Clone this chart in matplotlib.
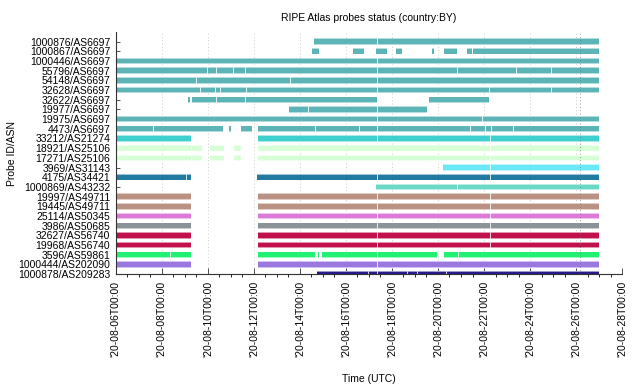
import matplotlib
matplotlib.use("Agg")
import matplotlib.pyplot as plt
import matplotlib.dates as mdates
from matplotlib.ticker import FuncFormatter
from matplotlib.colors import to_rgb
from datetime import datetime
import numpy as np

plt.rcParams['font.family'] = ['Liberation Sans', 'DejaVu Sans']

# probes, top to bottom
probes = ["1000876/AS6697", "1000867/AS6697", "1000446/AS6697", "55796/AS6697",
          "54148/AS6697", "32628/AS6697", "32622/AS6697", "19977/AS6697",
          "19975/AS6697", "4473/AS6697", "33212/AS21274", "18921/AS25106",
          "17271/AS25106", "3969/AS31143", "4175/AS34421", "1000869/AS43232",
          "19997/AS49711", "19445/AS49711", "25114/AS50345", "3986/AS50685",
          "32627/AS56740", "19968/AS56740", "3596/AS59861", "1000444/AS202090",
          "1000878/AS209283"]

asn_colors = {"AS6697": "#5cb4b6", "AS21274": "#3fcfcf", "AS25106": "#d6ffd6",
              "AS31143": "#6ae8f8", "AS34421": "#217aa0", "AS43232": "#6ad8c6",
              "AS49711": "#b99283", "AS50345": "#dc7ad8", "AS50685": "#8a9397",
              "AS56740": "#c0114d", "AS59861": "#22f072", "AS202090": "#9a78e0",
              "AS209283": "#281a8a"}

# time the probe was up, in days since 2020-08-06 00:00 UTC
up_spans = [
    [(8.63, 21.0)],
    [(8.51, 8.83), (10.29, 10.77), (11.31, 11.79), (12.17, 12.43), (13.72, 13.81),
     (14.24, 14.82), (15.25, 15.46), (15.54, 21.0)],
    [(0, 21.0)],
    [(0, 21.0)],
    [(0, 21.0)],
    [(0, 21.0)],
    [(3.15, 3.23), (3.30, 11.35), (13.61, 16.23)],
    [(7.54, 13.51)],
    [(0, 21.0)],
    [(0, 4.66), (4.93, 5.01), (5.44, 5.92), (6.16, 21.0)],
    [(0, 3.26), (6.18, 21.0)],
    [(0, 3.25), (3.29, 3.75), (4.11, 4.69), (5.15, 5.44), (6.18, 21.0)],
    [(0, 3.25), (3.29, 3.75), (4.11, 4.69), (5.15, 5.44), (6.18, 21.0)],
    [(14.21, 21.0)],
    [(0, 3.26), (6.15, 21.0)],
    [(11.31, 21.0)],
    [(0, 3.26), (6.16, 21.0)],
    [(0, 3.26), (6.16, 21.0)],
    [(0, 3.26), (6.16, 21.0)],
    [(0, 3.26), (6.16, 21.0)],
    [(0, 3.26), (6.16, 21.0)],
    [(0, 3.26), (6.16, 21.0)],
    [(0, 3.26), (6.18, 8.64), (8.77, 8.81), (8.98, 13.95), (14.26, 21.0)],
    [(0, 3.26), (6.16, 21.0)],
    [(8.74, 21.0)],
]

# thin breaks between measurement chunks (same units)
breaks = [
    [10.04, 11.37, 14.6, 15.08],
    [],
    [3.22, 11.37, 14.6],
    [3.98, 4.38, 5.12, 5.63, 11.37, 14.6, 14.84, 17.42, 18.94],
    [3.5, 7.6, 11.37, 12.6, 17.56],
    [3.13, 3.68, 4.01, 4.33, 4.55, 5.67, 8.7, 11.37, 16.23, 18.94],
    [4.0, 4.37, 5.63, 14.6],
    [8.38, 11.37],
    [4.0, 5.92, 10.95, 11.37, 14.6, 15.94],
    [1.63, 3.22, 8.67, 10.59, 11.37, 14.6, 15.42, 16.07, 16.33, 17.27, 17.73, 18.83],
    [11.37, 16.29],
    [16.29, 17.69],
    [16.29, 17.69],
    [15.08, 16.29, 17.73],
    [2.26, 3.07, 11.37, 16.29],
    [14.84, 17.73],
    [11.37, 16.29, 18.57],
    [11.37, 16.29],
    [11.37, 16.29],
    [11.37, 16.29, 19.95],
    [11.37, 16.29],
    [11.37, 16.29],
    [2.38, 11.37, 14.89, 17.73],
    [11.37, 14.86],
    [10.98, 11.37, 11.92, 12.67, 13.1, 14.38, 14.86, 17.13],
]

marker_day = 20.19
t0 = mdates.date2num(datetime(2020, 8, 6))


def lighter(c, f=0.55):
    r = np.array(to_rgb(c))
    return tuple(r + (1 - r) * f)


fig = plt.figure(figsize=(6.4, 3.84), dpi=100)
ax = fig.add_axes([0.181, 0.286, 0.791, 0.631])

n = len(probes)
for i, name in enumerate(probes):
    y = n - 1 - i
    col = asn_colors[name.split("/")[1]]
    for s, e in up_spans[i]:
        # soft edge around the whole span
        ax.broken_barh([(t0 + s, e - s)], (y - 0.33, 0.66),
                       facecolors=lighter(col), edgecolors='none')
        pts = [s] + [b for b in breaks[i] if s < b < e] + [e]
        for a, b in zip(pts[:-1], pts[1:]):
            a2 = a + 0.012 if a != s else a
            b2 = b - 0.012 if b != e else b
            ax.broken_barh([(t0 + a2, b2 - a2)], (y - 0.24, 0.48),
                           facecolors=col, edgecolors='none')
        for b in pts[1:-1]:
            ax.broken_barh([(t0 + b - 0.012, 0.024)], (y - 0.33, 0.66),
                           facecolors=lighter(col, 0.8), edgecolors='none')

ax.axvline(t0 + marker_day, color='#777777', lw=0.6, ls=(0, (1, 3)))

ax.set_xlim(t0, t0 + 22)
ax.set_ylim(0, n)
ax.set_yticks(range(n))
ax.set_yticklabels(probes[::-1], fontsize=7.5)

ax.xaxis.set_major_locator(mdates.DayLocator(bymonthday=range(6, 30, 2)))
ax.xaxis.set_minor_locator(mdates.HourLocator(byhour=[0, 12]))
ax.xaxis.set_major_formatter(FuncFormatter(
    lambda v, p: "'" + mdates.num2date(v).strftime("%y-%m-%dT%H:%M")))
plt.setp(ax.get_xticklabels(), rotation=90, fontsize=7.5)

ax.tick_params(axis='both', direction='in', width=0.6, color='#333333')
ax.tick_params(axis='x', which='major', length=4, pad=5)
ax.tick_params(axis='x', which='minor', length=2)
ax.tick_params(axis='y', length=3, pad=4)

ax.grid(axis='x', which='major', color='#bbbbbb', ls=(0, (1, 3)), lw=0.6)
ax.set_axisbelow(True)
for side in ['top', 'right']:
    ax.spines[side].set_visible(False)
for side in ['left', 'bottom']:
    ax.spines[side].set_linewidth(0.8)
    ax.spines[side].set_color('#333333')

ax.set_title("RIPE Atlas probes status (country:BY)", fontsize=7.5, pad=8)
ax.set_xlabel("Time (UTC)", fontsize=7.5, labelpad=12)
ax.set_ylabel("Probe ID/ASN", fontsize=7.5)
ax.yaxis.set_label_coords(-0.195, 0.5)

fig.savefig("out.png", dpi=100)
